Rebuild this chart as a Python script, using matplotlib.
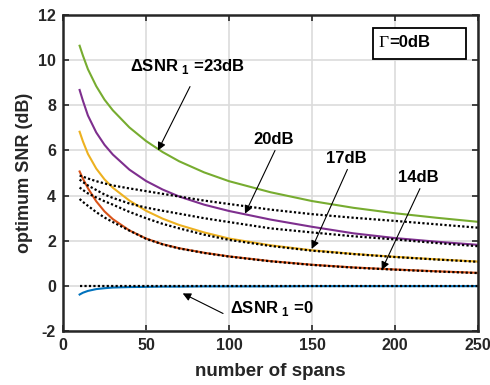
# Optimum SNR versus number of spans for several Delta-SNR_1 values
import numpy as np
import matplotlib.pyplot as plt
from matplotlib.patches import Rectangle

plt.rcParams['font.family'] = ['Liberation Sans', 'DejaVu Sans']
plt.rcParams['mathtext.fontset'] = 'custom'
plt.rcParams['mathtext.bf'] = 'Liberation Sans:bold'
plt.rcParams['mathtext.rm'] = 'Liberation Sans:bold'
plt.rcParams['axes.unicode_minus'] = False

spans = [10, 12, 15, 20, 25, 30, 40, 50, 60, 70, 85, 100, 125, 150, 175, 200, 225, 250]

# exact optimum SNR (dB), one list per Delta-SNR_1
snr_0 = [-0.38, -0.3, -0.22, -0.14, -0.1, -0.07, -0.05, -0.04, -0.03, -0.03, -0.02,
         -0.02, -0.02, -0.01, -0.01, -0.01, -0.01, -0.01]
snr_14 = [5.07, 4.75, 4.33, 3.75, 3.3, 2.96, 2.46, 2.1, 1.85, 1.67, 1.47,
          1.31, 1.1, 0.94, 0.82, 0.73, 0.65, 0.58]
snr_17 = [6.83, 6.4, 5.85, 5.2, 4.72, 4.35, 3.78, 3.33, 2.98, 2.7, 2.37,
          2.1, 1.8, 1.58, 1.42, 1.29, 1.18, 1.08]
snr_20 = [8.68, 8.2, 7.55, 6.8, 6.25, 5.82, 5.15, 4.65, 4.27, 3.96, 3.6,
          3.32, 2.94, 2.62, 2.33, 2.12, 1.96, 1.82]
snr_23 = [10.64, 10.2, 9.6, 8.85, 8.25, 7.78, 7.02, 6.42, 5.93, 5.52, 5.03,
          4.64, 4.15, 3.76, 3.46, 3.22, 3.02, 2.84]

# approximations (dotted)
approx_0 = [0.0] * len(spans)
approx_14 = [3.85, 3.72, 3.55, 3.27, 3.03, 2.83, 2.45, 2.09, 1.84, 1.66, 1.46,
             1.3, 1.09, 0.93, 0.81, 0.72, 0.64, 0.57]
approx_17 = [4.36, 4.25, 4.1, 3.92, 3.75, 3.6, 3.28, 3.0, 2.75, 2.55, 2.27,
             2.04, 1.77, 1.56, 1.41, 1.28, 1.17, 1.07]
approx_20 = [4.71, 4.6, 4.45, 4.25, 4.05, 3.9, 3.65, 3.47, 3.33, 3.2, 3.0,
             2.83, 2.55, 2.37, 2.2, 2.06, 1.9, 1.76]
approx_23 = [4.89, 4.84, 4.76, 4.64, 4.54, 4.45, 4.32, 4.2, 4.08, 3.96, 3.78,
             3.63, 3.38, 3.18, 3.02, 2.88, 2.73, 2.58]

fig = plt.figure(figsize=(4.9, 3.85), dpi=100)
ax = fig.add_axes([0.1286, 0.140, 0.847, 0.821])

ax.plot(spans, snr_0, color='#0072BD', lw=1.5)
ax.plot(spans, snr_14, color='#D95319', lw=1.5)
ax.plot(spans, snr_17, color='#EDB120', lw=1.5)
ax.plot(spans, snr_20, color='#7E2F8E', lw=1.5)
ax.plot(spans, snr_23, color='#77AC30', lw=1.5)
for a in [approx_0, approx_14, approx_17, approx_20, approx_23]:
    ax.plot(spans, a, color='black', lw=1.6, linestyle=(0, (1, 1)))

ax.set_xlim(0, 250)
ax.set_ylim(-2, 12)
ax.set_xticks([0, 50, 100, 150, 200, 250])
ax.set_yticks([-2, 0, 2, 4, 6, 8, 10, 12])
ax.grid(True, color='#dcdcdc', lw=1.2)
ax.set_axisbelow(True)
for s in ax.spines.values():
    s.set_linewidth(1.8)
    s.set_color('#262626')
ax.tick_params(direction='in', top=True, right=True, length=4, width=1.2,
               color='#262626', labelsize=11.5, labelcolor='#262626', pad=5)
for lab in ax.get_xticklabels() + ax.get_yticklabels():
    lab.set_fontweight('bold')
ax.set_xlabel('number of spans', fontsize=13.5, fontweight='bold',
              color='#262626', labelpad=7)
ax.set_ylabel('optimum SNR (dB)', fontsize=13, fontweight='bold', color='#262626')

arrow = dict(arrowstyle='-|>', color='black', lw=0.8, mutation_scale=12,
             shrinkA=0, shrinkB=0)
tkw = dict(fontsize=12, fontweight='bold')
ax.annotate('', xy=(57.2, 6.0), xytext=(76.5, 8.83), arrowprops=arrow)
ax.text(40.5, 9.7, r'$\Delta$SNR $_{\mathbf{1}}$ =23dB', va='center', **tkw)
ax.annotate('', xy=(109.6, 3.2), xytext=(127.7, 6.0), arrowprops=arrow)
ax.text(127, 6.5, '20dB', ha='center', va='center', **tkw)
ax.annotate('', xy=(149.8, 1.64), xytext=(171.3, 5.16), arrowprops=arrow)
ax.text(170.5, 5.65, '17dB', ha='center', va='center', **tkw)
ax.annotate('', xy=(192, 0.71), xytext=(215, 4.31), arrowprops=arrow)
ax.text(214.2, 4.81, '14dB', ha='center', va='center', **tkw)
ax.annotate('', xy=(72.1, -0.33), xytext=(96.4, -1.22), arrowprops=arrow)
ax.text(100.6, -1.0, r'$\Delta$SNR $_{\mathbf{1}}$ =0', va='center', **tkw)

ax.add_patch(Rectangle((186.7, 10.06), 56.1, 1.38, facecolor='white',
                       edgecolor='black', lw=1.3, zorder=5))
ax.text(190, 10.78, 'Γ', family='Liberation Serif', fontsize=12.5,
        va='center', zorder=6)
ax.text(196.5, 10.78, '=0dB', va='center', zorder=6, **tkw)

fig.savefig('out.png', dpi=100)
